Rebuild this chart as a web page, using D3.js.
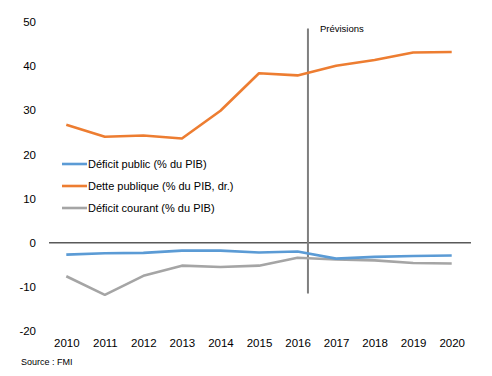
<!DOCTYPE html>
<html><head><meta charset="utf-8">
<script src="https://cdn.jsdelivr.net/npm/d3@7"></script>
<style>body{margin:0;background:#fff}svg{display:block;font-family:"Liberation Sans",Arial,sans-serif}</style>
</head><body><svg id="c" width="492" height="376"></svg>
<script>
const years = ["2010","2011","2012","2013","2014","2015","2016","2017","2018","2019","2020"];
const deficitPublic = [-2.7,-2.4,-2.3,-1.8,-1.8,-2.2,-2.0,-3.6,-3.2,-3.0,-2.9];
const dettePublique = [26.7,24.0,24.3,23.6,29.9,38.4,37.9,40.1,41.4,43.1,43.2];
const deficitCourant = [-7.6,-11.8,-7.5,-5.2,-5.5,-5.2,-3.4,-3.8,-4.0,-4.6,-4.7];
const yTicks = [-20,-10,0,10,20,30,40,50];
const seriesNames = ["Déficit public (% du PIB)","Dette publique (% du PIB, dr.)","Déficit courant (% du PIB)"];
const colors = ["#5B9BD5","#ED7D31","#A5A5A5"];
const forecastLabel = "Prévisions";
const sourceText = "Source : FMI";

const svg = d3.select("#c");
const x = d3.scalePoint().domain(years).range([66.3, 451.7]);
const y = d3.scaleLinear().domain([-20, 50]).range([331, 22]);
const step = x.step();

// y axis labels
const yAxis = d3.axisLeft(y).tickValues(yTicks).tickSize(0).tickPadding(0)
  .tickFormat(d => d < 0 ? "-" + Math.abs(d) : d);
const ya = svg.append("g").attr("transform","translate(36,0)").call(yAxis);
ya.select(".domain").remove();
ya.selectAll("text").attr("font-size",11.5).attr("fill","#000").attr("font-family","Liberation Sans, Arial, sans-serif");

// x axis labels
const xAxis = d3.axisBottom(x).tickSize(0).tickPadding(0);
const xa = svg.append("g").attr("transform","translate(0,339)").call(xAxis);
xa.select(".domain").remove();
xa.selectAll("text").attr("font-size",11.5).attr("fill","#000").attr("font-family","Liberation Sans, Arial, sans-serif");

// zero line
svg.append("line").attr("x1", x(years[0]) - step/2 + 2).attr("x2", x(years[years.length-1]) + step/2)
  .attr("y1", y(0)).attr("y2", y(0)).attr("stroke","#595959").attr("stroke-width",1.5);

// forecast line
const fx = x("2016") + step*0.27;
svg.append("line").attr("x1",fx).attr("x2",fx).attr("y1",y(48.5)).attr("y2",y(-11.5))
  .attr("stroke","#7F7F7F").attr("stroke-width",2);
svg.append("text").attr("x",fx+12).attr("y",y(47.7)).attr("font-size",9.5).text(forecastLabel);

const line = d3.line().x((d,i) => x(years[i])).y(d => y(d));
[deficitCourant, deficitPublic, dettePublique].forEach((s, k) => {
  const idx = [2,0,1][k];
  svg.append("path").datum(s).attr("d", line).attr("fill","none")
    .attr("stroke", colors[idx]).attr("stroke-width",2.6).attr("stroke-linejoin","round");
});

// legend
const lg = svg.append("g");
seriesNames.forEach((n,i) => {
  const ly = 164 + i*22;
  lg.append("line").attr("x1",62).attr("x2",87).attr("y1",ly).attr("y2",ly)
    .attr("stroke",colors[i]).attr("stroke-width",2.6);
  lg.append("text").attr("x",88).attr("y",ly+4).attr("font-size",11).text(n);
});

svg.append("text").attr("x",21).attr("y",365).attr("font-size",9).text(sourceText);
</script></body></html>
